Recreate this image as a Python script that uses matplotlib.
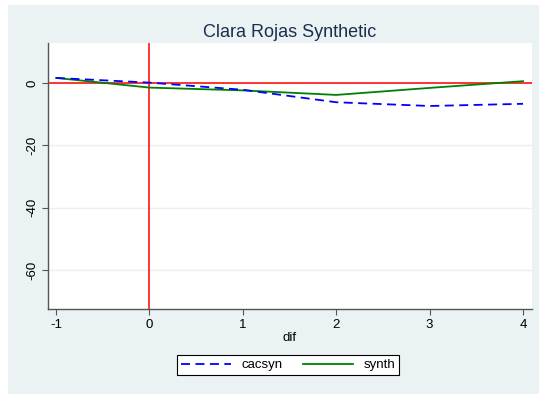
import matplotlib.pyplot as plt
from matplotlib.patches import Rectangle

# data
dif = [-1, 0, 1, 2, 3, 4]
cacsyn = [1.6, 0.1, -2.2, -6.2, -7.4, -6.7]
synth = [1.6, -1.5, -2.4, -3.85, -1.6, 0.55]
yticks = [0, -20, -40, -60]
xticks = [-1, 0, 1, 2, 3, 4]

plt.rcParams['font.family'] = ['Liberation Sans', 'DejaVu Sans']
plt.rcParams['axes.unicode_minus'] = False

W, H = 539, 394
fig = plt.figure(figsize=(W / 100, H / 100), dpi=100)
fig.patch.set_facecolor('white')

# Stata-style light blue outer region
bg = Rectangle((8 / W, 0), 1 - 8 / W, 1 - 5 / H, transform=fig.transFigure,
               facecolor='#eaf2f3', edgecolor='none', zorder=-10)
fig.add_artist(bg)

# plot region in pixels: left 48, right 532, top 43, bottom 309
ax = fig.add_axes([48 / W, (H - 309) / H, (532 - 48) / W, (309 - 43) / H])
ax.set_facecolor('white')

ax.plot(dif, cacsyn, color='blue', linestyle=(0, (5, 3)), linewidth=1.3, label='cacsyn', zorder=4)
ax.plot(dif, synth, color='green', linewidth=1.3, label='synth', zorder=3)

ax.axhline(0, color='red', linewidth=1.1, zorder=2)
ax.axvline(0, color='red', linewidth=1.1, zorder=2)

ax.set_xlim(-1.086, 4.096)
ax.set_ylim(-72.5, 12.8)
ax.set_xticks(xticks)
ax.set_yticks(yticks)
ax.set_yticklabels([str(t) for t in yticks], rotation=90, va='center')
ax.yaxis.grid(True, color='#e8f0f0', linewidth=1.0)
ax.set_axisbelow(True)

for s in ['top', 'right']:
    ax.spines[s].set_visible(False)
for s in ['left', 'bottom']:
    ax.spines[s].set_color('#555555')
    ax.spines[s].set_linewidth(1.0)
ax.tick_params(direction='out', length=4, width=0.8, color='#555555', labelsize=9.5,
               labelcolor='black', pad=3)

ax.set_xlabel('dif', fontsize=9.5, labelpad=1)
ax.set_title('Clara Rojas Synthetic', fontsize=13, color='#1c2d4f', pad=4)

leg = fig.legend(loc='center', bbox_to_anchor=(288 / W, (H - 365) / H), ncol=2,
                 fontsize=9.5, frameon=True, fancybox=False, edgecolor='black',
                 handlelength=3.8, columnspacing=1.5, borderpad=0.3, handletextpad=0.8)
leg.get_frame().set_linewidth(0.8)
leg.get_frame().set_facecolor('white')
leg.get_frame().set_alpha(1)

fig.savefig('out.png', dpi=100)
